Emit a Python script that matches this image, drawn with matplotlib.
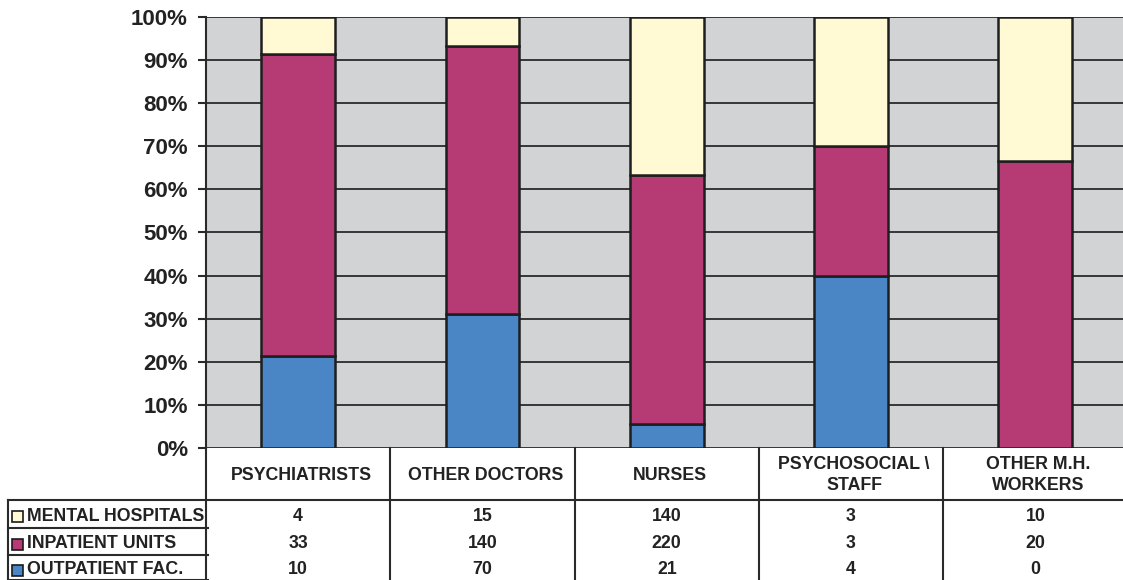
import numpy as np
import matplotlib.pyplot as plt

plt.rcParams['font.family'] = ['Liberation Sans', 'DejaVu Sans']
plt.rcParams['font.weight'] = 'bold'

# data
categories = ['PSYCHIATRISTS', 'OTHER DOCTORS', 'NURSES', 'PSYCHOSOCIAL \\\nSTAFF', 'OTHER M.H.\nWORKERS']
series_names = ['MENTAL HOSPITALS', 'INPATIENT UNITS', 'OUTPATIENT FAC.']
mental_hospitals = [4, 15, 140, 3, 10]
inpatient_units = [33, 140, 220, 3, 20]
outpatient_fac = [10, 70, 21, 4, 0]
yticks = [0, 10, 20, 30, 40, 50, 60, 70, 80, 90, 100]

colors = {'MENTAL HOSPITALS': '#fffad4',
          'INPATIENT UNITS': '#b63a74',
          'OUTPATIENT FAC.': '#4a86c6'}

W, H = 1123, 580
fig = plt.figure(figsize=(W / 100, H / 100), dpi=100)

# plot area in pixels (right edge runs slightly past the image)
x0, x1 = 206, 1127.5
ytop, ybot = 17, 448
ax = fig.add_axes([x0 / W, 1 - ybot / H, (x1 - x0) / W, (ybot - ytop) / H])

out = np.array(outpatient_fac, dtype=float)
inp = np.array(inpatient_units, dtype=float)
men = np.array(mental_hospitals, dtype=float)
tot = out + inp + men
p_out = out / tot * 100
p_inp = inp / tot * 100
p_men = men / tot * 100

x = np.arange(len(categories))
bw = 0.4
ec = '#1e1e1e'
ax.bar(x, p_out, bw, color=colors['OUTPATIENT FAC.'], edgecolor=ec, lw=1.8, zorder=3)
ax.bar(x, p_inp, bw, bottom=p_out, color=colors['INPATIENT UNITS'], edgecolor=ec, lw=1.8, zorder=3)
ax.bar(x, p_men, bw, bottom=p_out + p_inp, color=colors['MENTAL HOSPITALS'], edgecolor=ec, lw=1.8, zorder=3)

ax.set_xlim(-0.5, len(categories) - 0.5)
ax.set_ylim(0, 100)
ax.set_facecolor('#d2d3d5')
ax.set_yticks(yticks)
ax.set_yticklabels([f'{v}%' for v in yticks], fontsize=16, fontweight='bold', color='#222222')
ax.set_xticks([])
ax.yaxis.grid(True, color='#2a2a2a', lw=1.3, zorder=1)
ax.tick_params(axis='y', length=6, width=1.5, color='#2a2a2a', pad=7)
for s in ['top', 'right', 'bottom']:
    ax.spines[s].set_visible(False)
ax.spines['left'].set_linewidth(1.5)
ax.spines['left'].set_color('#2a2a2a')

# table drawn in pixel coordinates
tb = fig.add_axes([0, 0, 1, 1])
tb.set_xlim(0, W)
tb.set_ylim(H, 0)
tb.axis('off')
lc = '#2a2a2a'
colw = (x1 - x0) / len(categories)
col_edges = [x0 + i * colw for i in range(len(categories) + 1)]
hdr_bot = 500
row_edges = [500, 528, 555, 580]

for xe in col_edges[:-1]:
    tb.plot([xe, xe], [ybot, H], color=lc, lw=1.5)
tb.plot([8, 8], [hdr_bot, H], color=lc, lw=1.5)
tb.plot([8, W], [hdr_bot, hdr_bot], color=lc, lw=1.5)
for ye in row_edges[1:]:
    tb.plot([8, 208], [ye, ye], color=lc, lw=1.5)

for i, c in enumerate(categories):
    cx = x0 + (i + 0.5) * colw + 3
    tb.text(cx, (ybot + hdr_bot) / 2 + 1, c, ha='center', va='center', fontsize=12.8,
            fontweight='bold', color='#222222', linespacing=1.25)

rows = [mental_hospitals, inpatient_units, outpatient_fac]
for r, (name, vals) in enumerate(zip(series_names, rows)):
    yc = (row_edges[r] + row_edges[r + 1]) / 2 + 2.5
    tb.add_patch(plt.Rectangle((12, yc - 5.5), 11, 11, facecolor=colors[name],
                               edgecolor='#1a1a1a', lw=1.2))
    tb.text(27, yc, name, ha='left', va='center', fontsize=12.8, fontweight='bold', color='#222222')
    for i, v in enumerate(vals):
        cx = x0 + (i + 0.5) * colw
        tb.text(cx, yc, str(v), ha='center', va='center', fontsize=12.8,
                fontweight='bold', color='#222222')

fig.savefig('out.png', dpi=100)
